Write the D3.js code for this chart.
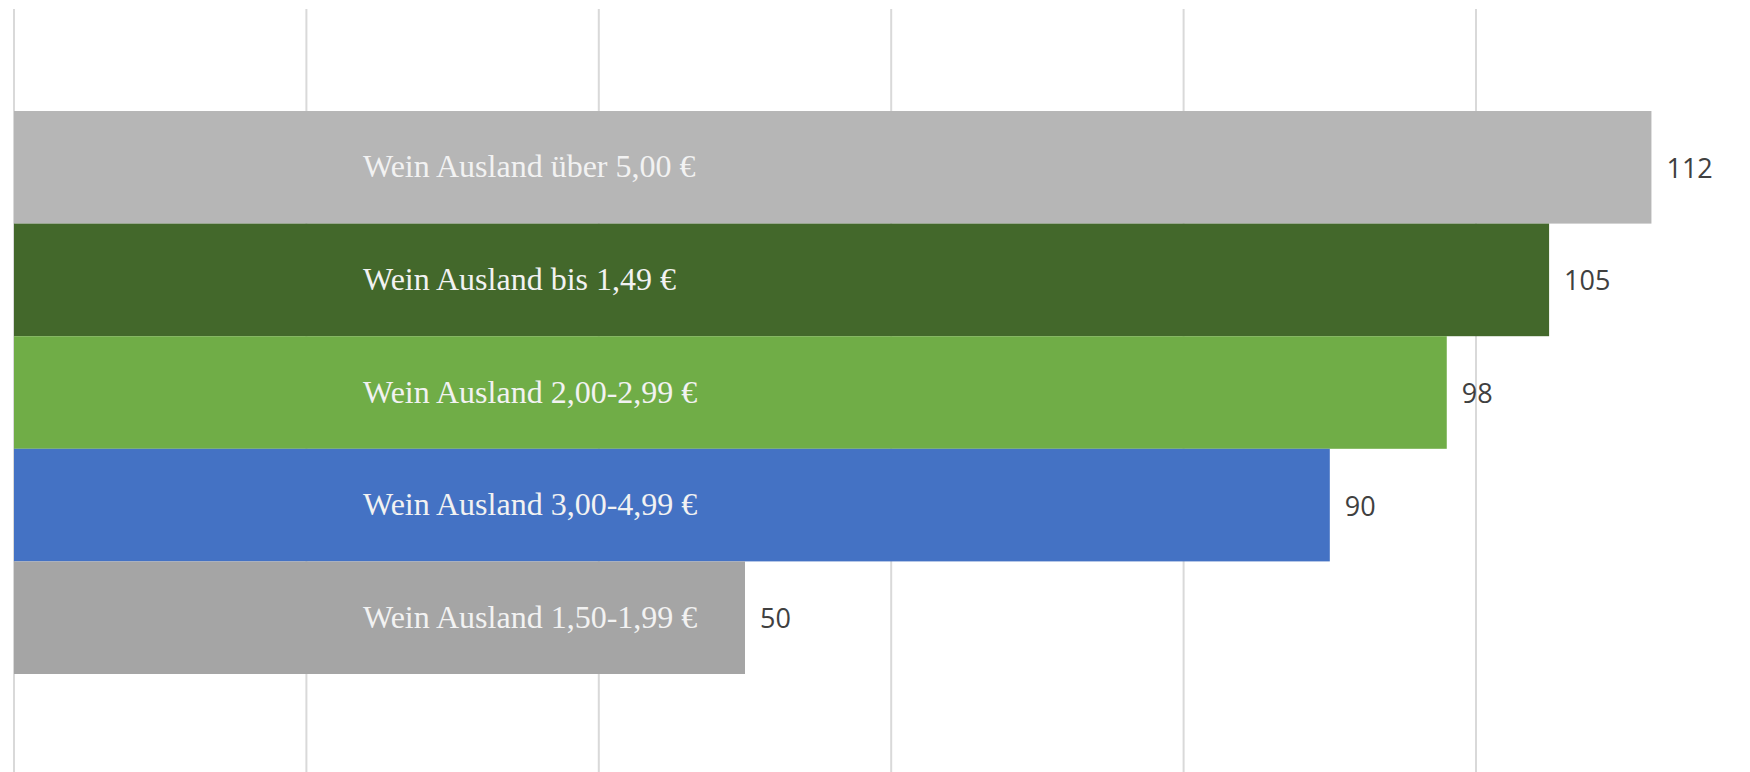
<!DOCTYPE html>
<html>
<head>
<meta charset="utf-8">
<script src="https://cdn.jsdelivr.net/npm/d3@7"></script>
<style>
  body { margin: 0; background: #fff; }
</style>
</head>
<body>
<div id="chart"></div>
<script>
// Daten: Kategorien von oben nach unten
var categories = ["Wein Ausland über 5,00 €", "Wein Ausland bis 1,49 €", "Wein Ausland 2,00-2,99 €", "Wein Ausland 3,00-4,99 €", "Wein Ausland 1,50-1,99 €"];
var values = [112, 105, 98, 90, 50];
var barColors = ["#b6b6b6", "#43682b", "#70ad47", "#4472c4", "#a5a5a5"];
var gridTicks = [0, 20, 40, 60, 80, 100, 120];

function createChart() {
    var width = 1750, height = 772;

    var svg = d3.select("#chart").append("svg")
        .attr("width", width)
        .attr("height", height);

    // x-Achse: Wert -> Pixel
    var x = d3.scaleLinear()
        .domain([0, 120])
        .range([14, 14 + 120 * 14.62]);

    // y-Achse: Kategorien als Bänder
    var y = d3.scaleBand()
        .domain(categories)
        .range([111, 674])
        .padding(0);

    // Gitterlinien
    svg.append("g").selectAll("line")
        .data(gridTicks)
        .enter().append("line")
        .attr("x1", d => x(d))
        .attr("x2", d => x(d))
        .attr("y1", 9)
        .attr("y2", height)
        .attr("stroke", "#d9d9d9")
        .attr("stroke-width", 2);

    var rows = categories.map((c, i) => ({ name: c, value: values[i], color: barColors[i] }));

    // Balken
    svg.append("g").selectAll("rect")
        .data(rows)
        .enter().append("rect")
        .attr("x", x(0))
        .attr("y", d => y(d.name))
        .attr("width", d => x(d.value) - x(0))
        .attr("height", y.bandwidth())
        .attr("fill", d => d.color);

    // Kategorienamen im Balken
    svg.append("g").selectAll("text")
        .data(rows)
        .enter().append("text")
        .attr("x", 363)
        .attr("y", d => y(d.name) + y.bandwidth() / 2 + 10)
        .attr("font-family", "'Liberation Serif', 'DejaVu Serif', serif")
        .attr("font-size", 32)
        .attr("fill", "#f2f2f2")
        .text(d => d.name);

    // Werte rechts neben dem Balken
    svg.append("g").selectAll("text")
        .data(rows)
        .enter().append("text")
        .attr("x", d => x(d.value) + 15)
        .attr("y", d => y(d.name) + y.bandwidth() / 2 + 10.5)
        .attr("font-family", "'Open Sans', sans-serif")
        .attr("font-size", 27)
        .attr("fill", "#404040")
        .text(d => d.value);
}

createChart();
</script>
</body>
</html>
